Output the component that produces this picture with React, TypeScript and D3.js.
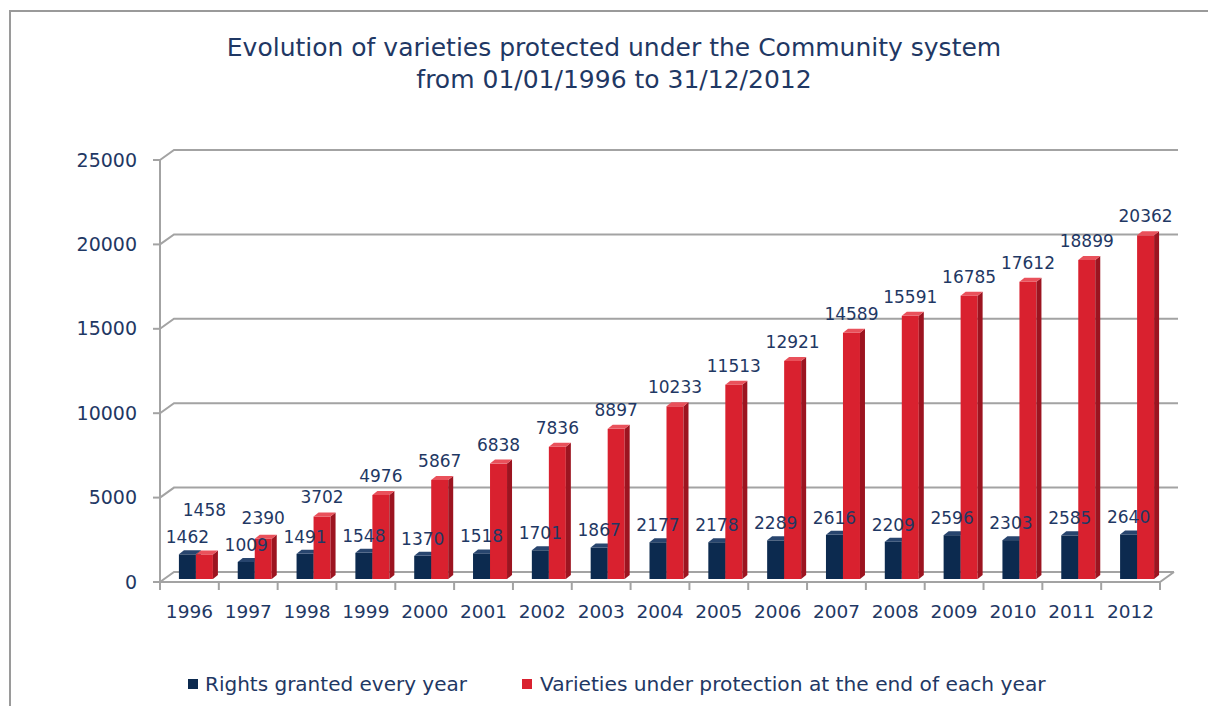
import React from "react";
import * as d3 from "d3";

const years = ["1996","1997","1998","1999","2000","2001","2002","2003","2004","2005","2006","2007","2008","2009","2010","2011","2012"];
const rightsGranted = [1462,1009,1491,1548,1370,1518,1701,1867,2177,2178,2289,2616,2209,2596,2303,2585,2640];
const underProtection = [1458,2390,3702,4976,5867,6838,7836,8897,10233,11513,12921,14589,15591,16785,17612,18899,20362];
const yTicks = [0,5000,10000,15000,20000,25000];
const titleLines = ["Evolution of varieties protected under the Community system","from 01/01/1996 to 31/12/2012"];
const seriesNames = ["Rights granted every year","Varieties under protection at the end of each year"];

const W = 1208, H = 706;
const FONT = "'DejaVu Sans', Verdana, sans-serif";
const TXT = "#1f3864";
const GRID = "#a3a3a3";
const NAVY = { front: "#0c2a4f", side: "#061a33", top: "#28456e" };
const RED = { front: "#d9212f", side: "#9c1420", top: "#e9515b" };

export default function App() {
  const x0 = 160, x1 = 1160, yBase = 582, yTop = 160;
  const DX = 14, DY = -10;
  const x = d3.scaleBand<string>().domain(years).range([x0, x1]);
  const y = d3.scaleLinear().domain([0, 25000]).range([yBase, yTop]);
  const bw = 17, bdx = 5, bdy = -4, shift = 6.5;

  const bar = (xl: number, v: number, c: any, key: string) => {
    const yt = y(v) - 3;
    const yb = yBase - 3;
    return (
      <g key={key}>
        <rect x={xl} y={yt} width={bw} height={yb - yt} fill={c.front} />
        <path d={`M${xl + bw},${yt} L${xl + bw + bdx},${yt + bdy} L${xl + bw + bdx},${yb + bdy} L${xl + bw},${yb} Z`} fill={c.side} />
        <path d={`M${xl},${yt} L${xl + bdx},${yt + bdy} L${xl + bw + bdx},${yt + bdy} L${xl + bw},${yt} Z`} fill={c.top} />
      </g>
    );
  };

  return (
    <svg width={W} height={H} style={{ position: "fixed", left: 0, top: 0, background: "#fff" }} fontFamily={FONT}>
      <rect x={0} y={0} width={W} height={H} fill="#fff" />
      <path d={`M10,${H} L10,11 L${W},11`} fill="none" stroke="#9a9a9a" strokeWidth={2} />
      {titleLines.map((t, i) => (
        <text key={i} x={614} y={56 + i * 32} textAnchor="middle" fontSize={25} fill={TXT}>{t}</text>
      ))}
      {yTicks.map((t) => (
        <g key={t}>
          <path d={`M${x0},${y(t)} L${x0 + DX},${y(t) + DY} L${t === 0 ? x1 + DX : 1178},${y(t) + DY}`} fill="none" stroke={GRID} strokeWidth={2} />
          <line x1={x0 - 7} x2={x0} y1={y(t)} y2={y(t)} stroke={GRID} strokeWidth={2} />
          <text x={137} y={y(t)} dy="0.35em" textAnchor="end" fontSize={19} fill={TXT}>{t}</text>
        </g>
      ))}
      <line x1={x0} x2={x0} y1={yTop} y2={yBase} stroke={GRID} strokeWidth={2} />
      <path d={`M${x0},${yBase} L${x1},${yBase} L${x1 + DX},${yBase + DY}`} fill="none" stroke={GRID} strokeWidth={2} />
      {years.map((yr) => (
        <line key={"tk" + yr} x1={x(yr)!} x2={x(yr)!} y1={yBase} y2={yBase + 8} stroke={GRID} strokeWidth={2} />
      ))}
      <line x1={x1} x2={x1} y1={yBase} y2={yBase + 8} stroke={GRID} strokeWidth={2} />
      {years.map((yr, i) => {
        const c = x(yr)! + x.bandwidth() / 2 + shift;
        return (
          <g key={yr}>
            {bar(c - bw, rightsGranted[i], NAVY, "n")}
            {bar(c, underProtection[i], RED, "r")}
          </g>
        );
      })}
      {years.map((yr, i) => {
        const c = x(yr)! + x.bandwidth() / 2 + shift;
        const ny = y(rightsGranted[i]) - 20;
        const ry = Math.min(y(underProtection[i]) - 22, ny - 27);
        return (
          <g key={"l" + yr} fontSize={17} fill={TXT} textAnchor="middle">
            <text x={c - bw / 2} y={ny} dy="0.35em">{rightsGranted[i]}</text>
            <text x={c + bw / 2} y={ry} dy="0.35em">{underProtection[i]}</text>
            <text x={x(yr)! + x.bandwidth() / 2} y={612} dy="0.35em" fontSize={18.5}>{yr}</text>
          </g>
        );
      })}
      <rect x={188} y={679} width={10} height={10} fill={NAVY.front} />
      <text x={205} y={684} dy="0.35em" fontSize={20} fill={TXT}>{seriesNames[0]}</text>
      <rect x={522} y={679} width={10} height={10} fill={RED.front} />
      <text x={540} y={684} dy="0.35em" fontSize={20.2} fill={TXT}>{seriesNames[1]}</text>
    </svg>
  );
}
